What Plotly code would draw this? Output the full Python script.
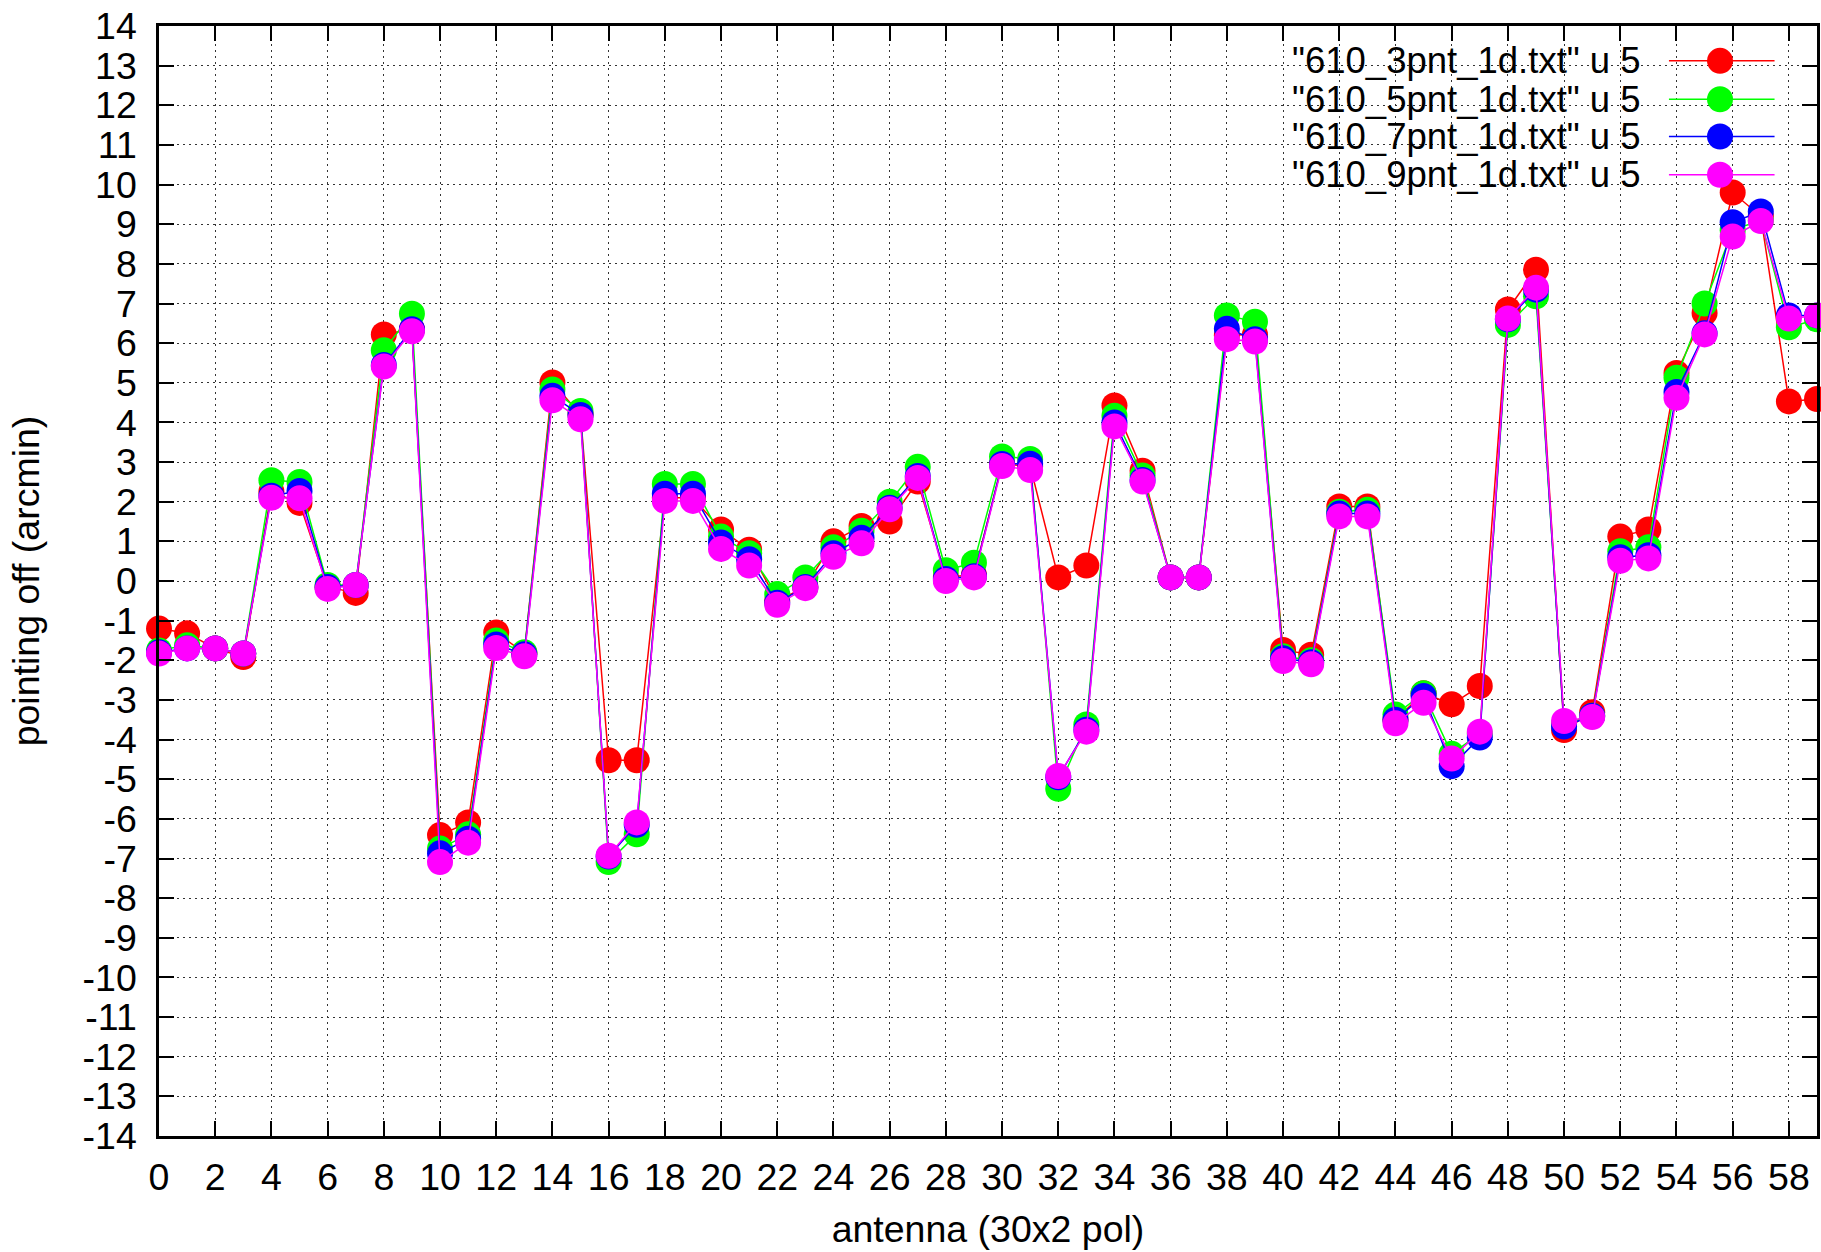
import plotly.graph_objects as go

antenna = list(range(60))

pnt3 = [-1.2, -1.32, -1.7, -1.92, 2.25, 1.97, -0.15, -0.3, 6.22, 6.35,
        -6.41, -6.09, -1.3, -1.82, 5.01, 4.2, -4.52, -4.52, 2.1, 2.1,
        1.3, 0.79, -0.5, -0.15, 1.0, 1.39, 1.5, 2.51, 0.1, 0.15,
        2.95, 2.9, 0.09, 0.39, 4.43, 2.78, 0.09, 0.09, 6.2, 6.22,
        -1.74, -1.86, 1.88, 1.88, -3.5, -2.83, -3.11, -2.65, 6.85, 7.85,
        -3.76, -3.31, 1.12, 1.3, 5.25, 6.76, 9.8, 9.2, 4.53, 4.59]
pnt5 = [-1.75, -1.62, -1.7, -1.83, 2.54, 2.5, -0.1, -0.1, 5.82, 6.74,
        -6.75, -6.39, -1.5, -1.8, 4.83, 4.29, -7.09, -6.39, 2.45, 2.45,
        1.12, 0.7, -0.33, 0.09, 0.85, 1.27, 2.0, 2.88, 0.27, 0.46,
        3.14, 3.08, -5.24, -3.62, 4.17, 2.66, 0.09, 0.09, 6.7, 6.54,
        -1.9, -2.0, 1.75, 1.8, -3.37, -2.83, -4.36, -3.85, 6.46, 7.18,
        -3.6, -3.4, 0.75, 0.85, 5.13, 7.0, 8.85, 9.1, 6.4, 6.6]
pnt7 = [-1.8, -1.7, -1.7, -1.83, 2.15, 2.27, -0.15, -0.1, 5.45, 6.35,
        -6.87, -6.5, -1.6, -1.85, 4.67, 4.19, -6.95, -6.15, 2.2, 2.2,
        0.97, 0.55, -0.55, -0.15, 0.7, 1.09, 1.85, 2.65, 0.05, 0.12,
        2.95, 2.96, -4.95, -3.75, 4.0, 2.55, 0.09, 0.09, 6.36, 6.1,
        -1.95, -2.05, 1.7, 1.7, -3.5, -2.9, -4.67, -3.95, 6.6, 7.35,
        -3.67, -3.4, 0.6, 0.65, 4.77, 6.25, 9.05, 9.32, 6.7, 6.7]
pnt9 = [-1.83, -1.7, -1.7, -1.83, 2.1, 2.09, -0.2, -0.1, 5.41, 6.3,
        -7.09, -6.6, -1.69, -1.9, 4.56, 4.08, -6.93, -6.09, 2.02, 2.02,
        0.81, 0.39, -0.6, -0.18, 0.61, 0.95, 1.81, 2.6, 0.0, 0.09,
        2.9, 2.8, -4.92, -3.8, 3.9, 2.51, 0.09, 0.09, 6.1, 6.04,
        -2.02, -2.1, 1.63, 1.63, -3.59, -3.07, -4.48, -3.8, 6.62, 7.4,
        -3.53, -3.43, 0.51, 0.57, 4.62, 6.22, 8.69, 9.08, 6.62, 6.7]

series_names = ['"610_3pnt_1d.txt" u 5', '"610_5pnt_1d.txt" u 5',
                '"610_7pnt_1d.txt" u 5', '"610_9pnt_1d.txt" u 5']
series_values = [pnt3, pnt5, pnt7, pnt9]
series_colors = ["#ff0000", "#00ff00", "#0000ff", "#ff00ff"]

x_ticks = list(range(0, 59, 2))
y_ticks = list(range(-14, 15))
y_ticktext = [str(v) for v in y_ticks]

FONT = "Liberation Sans, Arial, sans-serif"
FS = 37.5
FS_KEY = 36.5

fig = go.Figure()
for name, vals, col in zip(series_names, series_values, series_colors):
    fig.add_trace(go.Scatter(
        x=antenna, y=vals, mode="lines+markers", name=name,
        line=dict(color=col, width=1.5),
        marker=dict(color=col, size=26, line=dict(width=0)),
        cliponaxis=False, showlegend=False))

# white area behind key (hides grid there, like gnuplot)
fig.add_shape(type="rect", xref="paper", yref="paper",
              x0=0.613, x1=1.0, y0=0.852, y1=1.0,
              fillcolor="white", line=dict(width=0), layer="below")

# manual key: text then sample, as in gnuplot
row_y = [0.9686, 0.934, 0.9005, 0.866]
for name, col, yy in zip(series_names, series_colors, row_y):
    fig.add_annotation(text=name, xref="paper", yref="paper", x=0.895, y=yy,
                       xanchor="right", yanchor="middle", showarrow=False,
                       font=dict(family=FONT, size=FS_KEY, color="black"))
    fig.add_shape(type="line", xref="paper", yref="paper",
                  x0=0.9107, x1=0.9744, y0=yy, y1=yy,
                  line=dict(color=col, width=1.5))
    fig.add_shape(type="circle", xref="paper", yref="paper",
                  xsizemode="pixel", ysizemode="pixel",
                  xanchor=0.9415, yanchor=yy, x0=-13, x1=13, y0=-13, y1=13,
                  fillcolor=col, line=dict(width=0))

axis_common = dict(
    showline=True, linecolor="black", linewidth=2.5, mirror="allticks",
    ticks="inside", ticklen=15, tickwidth=1.5, tickcolor="black",
    showgrid=True, gridcolor="#333333", gridwidth=1, griddash="2px,4px",
    zeroline=False, automargin=False, ticklabeloverflow="allow",
    tickfont=dict(family=FONT, size=FS, color="black"),
)

fig.update_layout(
    width=1821, height=1252,
    margin=dict(l=159, r=4, t=26, b=116),
    paper_bgcolor="white", plot_bgcolor="white",
    font=dict(family=FONT, size=FS, color="black"),
    xaxis=dict(range=[0, 59], tickvals=x_ticks, ticklabelstandoff=6,
               title=dict(text="antenna (30x2 pol)", standoff=19,
                          font=dict(family=FONT, size=FS)),
               **axis_common),
    yaxis=dict(range=[-14, 14], tickvals=y_ticks, ticktext=y_ticktext,
               ticklabelstandoff=12,
               title=dict(text="pointing off (arcmin)", standoff=32,
                          font=dict(family=FONT, size=FS)),
               **axis_common),
)

fig.write_html("out.html",
               config={"displayModeBar": False},
               post_script="document.body.style.margin='0';"
                           "document.body.style.overflow='hidden';")
